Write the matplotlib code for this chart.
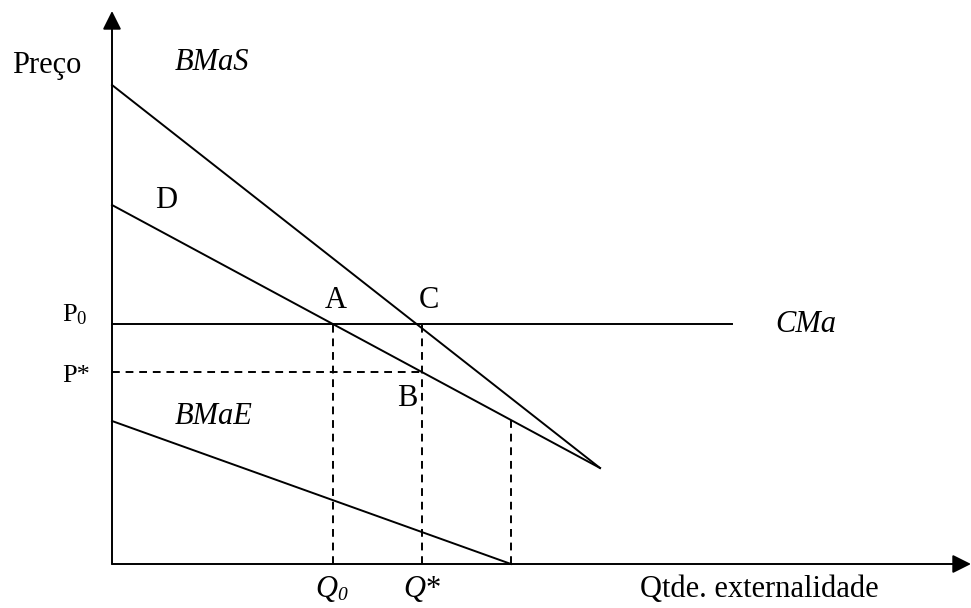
import matplotlib
matplotlib.use("Agg")
import matplotlib.pyplot as plt

plt.rcParams['font.family'] = ['Liberation Serif', 'DejaVu Serif']
plt.rcParams['mathtext.fontset'] = 'custom'
plt.rcParams['mathtext.rm'] = 'Liberation Serif'
plt.rcParams['mathtext.it'] = 'Liberation Serif:italic'

# values (origin at the axes corner)
p0 = 240
p_star = 192
q0 = 221
q_star = 310
q_end = 399
bmas_x = [0, 488]
bmas_y = [479, 96]
d_x = [0, 488]
d_y = [359, 96]
bmae_x = [0, 399]
bmae_y = [143, 0]
cma_x = [0, 620]
d_at_qend = d_y[0] + (d_y[1] - d_y[0]) * q_end / d_x[1]

fig = plt.figure(figsize=(9.71, 6.08), dpi=100)
ax = fig.add_axes([0, 0, 1, 1])
ax.set_xlim(-112, 971 - 112)
ax.set_ylim(-(608 - 564), 564)
ax.axis('off')

lw = 1.4
# axes with arrows
ax.annotate('', xy=(0, 553), xytext=(0, 0),
            arrowprops=dict(arrowstyle='-|>', lw=lw, color='black', mutation_scale=28, shrinkA=0, shrinkB=0))
ax.annotate('', xy=(859, 0), xytext=(0, 0),
            arrowprops=dict(arrowstyle='-|>', lw=lw, color='black', mutation_scale=28, shrinkA=0, shrinkB=0))

ax.plot(bmas_x, bmas_y, color='black', lw=lw)
ax.plot(d_x, d_y, color='black', lw=lw)
ax.plot(bmae_x, bmae_y, color='black', lw=lw)
ax.plot(cma_x, [p0, p0], color='black', lw=lw)

dash = (0, (4, 3))
ax.plot([0, q_star], [p_star, p_star], color='black', lw=lw, ls=dash)
ax.plot([q0, q0], [0, p0], color='black', lw=lw, ls=dash)
ax.plot([q_star, q_star], [0, p0], color='black', lw=lw, ls=dash)
ax.plot([q_end, q_end], [0, d_at_qend], color='black', lw=lw, ls=dash)

fs = 22
ax.text(-100, 499, 'Preço', fontsize=fs, va='center', ha='left')
ax.text(63, 502, 'BMaS', fontsize=fs, style='italic', va='center', ha='left')
ax.text(43, 364, 'D', fontsize=fs, va='center', ha='left')
ax.text(213, 264, 'A', fontsize=fs, va='center', ha='left')
ax.text(307, 264, 'C', fontsize=fs, va='center', ha='left')
ax.text(285, 166, 'B', fontsize=fs, va='center', ha='left')
ax.text(63, 147, 'BMaE', fontsize=fs, style='italic', va='center', ha='left')
ax.text(663, p0 - 1, 'CMa', fontsize=fs, style='italic', va='center', ha='left')
ax.text(-24, p0 + 9, r'P$_{\mathrm{0}}$', fontsize=19, va='center', ha='right')
ax.text(-22, p_star - 4, 'P*', fontsize=19, va='center', ha='right')
ax.text(q0 + 4, -25, 'Q', fontsize=fs, style='italic', va='center', ha='right')
ax.text(q0 + 4, -31, '0', fontsize=14, style='italic', va='center', ha='left')
ax.text(q_star, -25, r'$Q$*', fontsize=fs, va='center', ha='center')
ax.text(647, -25, 'Qtde. externalidade', fontsize=fs, va='center', ha='center')

fig.savefig('out.png', dpi=100)
